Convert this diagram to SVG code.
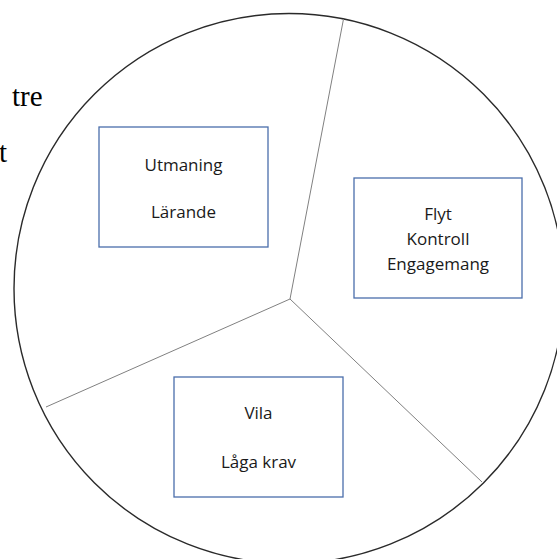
<svg xmlns="http://www.w3.org/2000/svg" width="557" height="559" viewBox="0 0 557 559">
<style>
.side{font-family:"Liberation Serif","Times New Roman",serif;font-size:29px;fill:#000}
.lbl{font-family:"Open Sans","Noto Sans",sans-serif;font-size:17px;fill:#1a1a1a;text-anchor:middle}
.box{fill:#fff;stroke:#4a6eab;stroke-width:1.3}
.spoke{stroke:#808080;stroke-width:1;fill:none}
</style>
<rect width="557" height="559" fill="#fff"/>
<text class="side" x="12" y="106">tre</text>
<text class="side" x="-1" y="162">t</text>
<circle cx="289" cy="288.5" r="275" fill="#fff" stroke="#2a2a2a" stroke-width="1.4"/>
<g id="connectors">
<line class="spoke" x1="290" y1="299" x2="343.5" y2="19"/>
<line class="spoke" x1="290" y1="299" x2="482" y2="482"/>
<line class="spoke" x1="290" y1="299" x2="46" y2="407"/>
</g>
<g id="node-utmaning">
<rect class="box" x="99" y="127" width="169" height="120"/>
<text class="lbl" x="183.5" y="171">Utmaning</text>
<text class="lbl" x="183.5" y="218">Lärande</text>
</g>
<g id="node-flyt">
<rect class="box" x="354" y="178" width="168" height="120"/>
<text class="lbl" x="438" y="220">Flyt</text>
<text class="lbl" x="438" y="245">Kontroll</text>
<text class="lbl" x="438" y="270">Engagemang</text>
</g>
<g id="node-vila">
<rect class="box" x="174" y="377" width="169" height="120"/>
<text class="lbl" x="258.5" y="419">Vila</text>
<text class="lbl" x="258.5" y="468">Låga krav</text>
</g>
</svg>
